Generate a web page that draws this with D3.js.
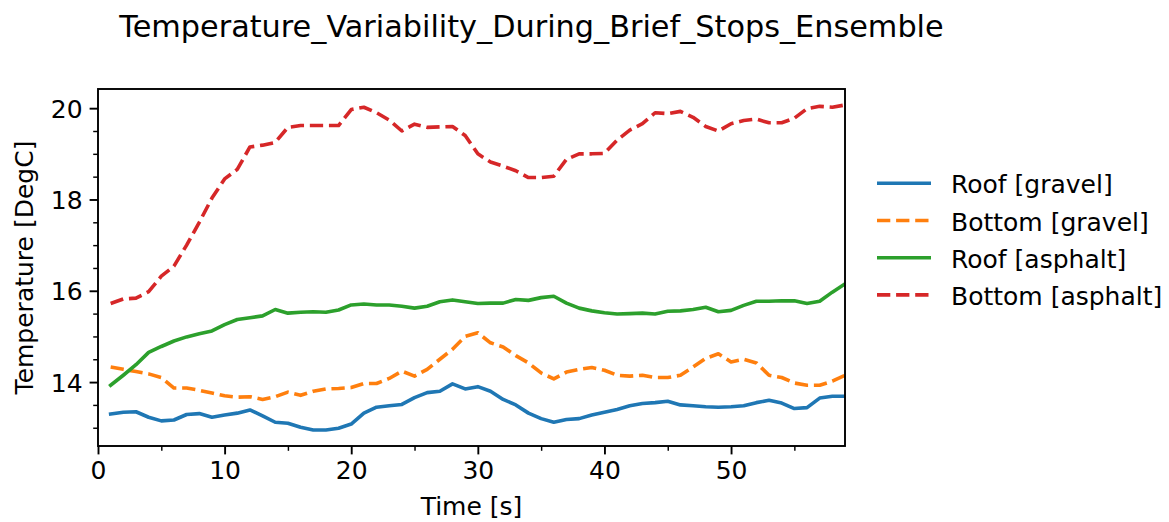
<!DOCTYPE html>
<html>
<head>
<meta charset="utf-8">
<script src="https://cdn.jsdelivr.net/npm/d3@7"></script>
<style>
  html, body { margin: 0; padding: 0; background: #fff; }
  svg { display: block; font-family: "DejaVu Sans", sans-serif; }
</style>
</head>
<body>
<svg id="chart" width="1169" height="522"></svg>
<script>
// Time axis, one sample per second
const time = d3.range(1, 60);

const roofGravel = [
  13.30, 13.34, 13.35, 13.23, 13.15, 13.17, 13.29, 13.31, 13.23, 13.28,
  13.32, 13.39, 13.26, 13.12, 13.10, 13.01, 12.95, 12.95, 12.99, 13.08,
  13.32, 13.45, 13.48, 13.51, 13.66, 13.77, 13.80, 13.96, 13.85, 13.90,
  13.80, 13.62, 13.50, 13.32, 13.20, 13.12, 13.18, 13.20, 13.28, 13.34,
  13.40, 13.48, 13.53, 13.55, 13.58, 13.50, 13.48, 13.46, 13.45, 13.46,
  13.48, 13.55, 13.60, 13.54, 13.42, 13.44, 13.65, 13.69, 13.69
];

const bottomGravel = [
  14.33, 14.28, 14.23, 14.18, 14.10, 13.87, 13.87, 13.82, 13.76, 13.70,
  13.67, 13.68, 13.62, 13.68, 13.78, 13.71, 13.80, 13.85, 13.86, 13.88,
  13.97, 13.97, 14.08, 14.24, 14.13, 14.28, 14.50, 14.72, 15.00, 15.08,
  14.86, 14.77, 14.58, 14.42, 14.20, 14.07, 14.22, 14.28, 14.32, 14.26,
  14.15, 14.13, 14.15, 14.10, 14.10, 14.15, 14.33, 14.52, 14.62, 14.44,
  14.50, 14.42, 14.15, 14.10, 13.98, 13.93, 13.93, 14.02, 14.15
];

const roofAsphalt = [
  13.93, 14.15, 14.38, 14.65, 14.78, 14.90, 14.99, 15.06, 15.12, 15.26,
  15.37, 15.41, 15.45, 15.59, 15.51, 15.53, 15.54, 15.53, 15.58, 15.69,
  15.71, 15.69, 15.69, 15.66, 15.62, 15.66, 15.76, 15.80, 15.76, 15.72,
  15.73, 15.73, 15.81, 15.79, 15.85, 15.88, 15.73, 15.62, 15.56, 15.52,
  15.49, 15.50, 15.51, 15.49, 15.55, 15.56, 15.59, 15.64, 15.54, 15.57,
  15.68, 15.77, 15.77, 15.78, 15.78, 15.72, 15.77, 15.97, 16.15
];

const bottomAsphalt = [
  15.72, 15.82, 15.84, 15.98, 16.32, 16.54, 17.00, 17.50, 18.03, 18.45,
  18.66, 19.15, 19.19, 19.25, 19.58, 19.62, 19.62, 19.62, 19.62, 19.97,
  20.02, 19.90, 19.74, 19.50, 19.65, 19.58, 19.59, 19.60, 19.40, 19.00,
  18.82, 18.73, 18.63, 18.48, 18.48, 18.51, 18.88, 19.00, 19.00, 19.01,
  19.30, 19.52, 19.66, 19.90, 19.88, 19.93, 19.80, 19.60, 19.50, 19.66,
  19.73, 19.76, 19.68, 19.68, 19.78, 19.99, 20.04, 20.02, 20.07
];

const seriesNames = ["Roof [gravel]", "Bottom [gravel]", "Roof [asphalt]", "Bottom [asphalt]"];
const seriesValues = [roofGravel, bottomGravel, roofAsphalt, bottomAsphalt];
const seriesColors = ["#1f77b4", "#ff7f0e", "#2ca02c", "#d62728"];
const seriesDashed = [false, true, false, true];

const xTicks = [0, 10, 20, 30, 40, 50];
const yTicks = [14, 16, 18, 20];

const titleText = "Temperature_Variability_During_Brief_Stops_Ensemble";
const xLabel = "Time [s]";
const yLabel = "Temperature [DegC]";

// Plot frame in pixels
const plot = { left: 98, right: 845, top: 89, bottom: 446 };
const fontSize = 25;
const lineW = 3.6;
const dash = "13.3,5.8";

const svg = d3.select("#chart");

const x = d3.scaleLinear().domain([0, 59]).range([plot.left, plot.right]);
const y = d3.scaleLinear().domain([12.6, 20.42]).range([plot.bottom, plot.top]);

// Clip region for the data lines
svg.append("defs").append("clipPath").attr("id", "plot-clip")
  .append("rect")
  .attr("x", plot.left).attr("y", plot.top)
  .attr("width", plot.right - plot.left).attr("height", plot.bottom - plot.top);

// Title
svg.append("text")
  .attr("x", 531.5).attr("y", 37)
  .attr("text-anchor", "middle")
  .attr("font-size", 30.3)
  .attr("fill", "#000")
  .text(titleText);

// Data lines
const line = d3.line()
  .x((d, i) => x(time[i]))
  .y(d => y(d));

const lines = svg.append("g").attr("clip-path", "url(#plot-clip)");
seriesValues.forEach((vals, k) => {
  lines.append("path")
    .datum(vals)
    .attr("d", line)
    .attr("fill", "none")
    .attr("stroke", seriesColors[k])
    .attr("stroke-width", lineW)
    .attr("stroke-linejoin", "round")
    .attr("stroke-linecap", seriesDashed[k] ? "butt" : "square")
    .attr("stroke-dasharray", seriesDashed[k] ? dash : null);
});

// Axes
const xAxis = d3.axisBottom(x).tickValues(xTicks).tickFormat(d3.format("d"))
  .tickSize(8.4).tickPadding(6);
const xMinor = d3.axisBottom(x).tickValues(d3.range(5, 60, 10)).tickFormat("")
  .tickSize(4.8);
const yAxis = d3.axisLeft(y).tickValues(yTicks).tickFormat(d3.format("d"))
  .tickSize(8.4).tickPadding(7);
const yMinor = d3.axisLeft(y).tickValues(d3.range(13, 20.5, 0.5).filter(v => v % 2 !== 0)).tickFormat("")
  .tickSize(4.8);

function styleAxis(g, major) {
  g.select(".domain").remove();
  g.selectAll(".tick line").attr("stroke", "#000").attr("stroke-width", major ? 1.9 : 1.45);
  g.selectAll(".tick text").attr("fill", "#000").attr("font-size", fontSize)
    .attr("font-family", "DejaVu Sans, sans-serif");
}

svg.append("g").attr("transform", `translate(0,${plot.bottom})`).call(xAxis).call(g => styleAxis(g, true))
  .selectAll(".tick text").attr("dy", "0.74em");
svg.append("g").attr("transform", `translate(0,${plot.bottom})`).call(xMinor).call(g => styleAxis(g, false));
svg.append("g").attr("transform", `translate(${plot.left},0)`).call(yAxis).call(g => styleAxis(g, true))
  .selectAll(".tick text").attr("dy", "0.36em");
svg.append("g").attr("transform", `translate(${plot.left},0)`).call(yMinor).call(g => styleAxis(g, false));

// Frame
svg.append("rect")
  .attr("x", plot.left).attr("y", plot.top)
  .attr("width", plot.right - plot.left).attr("height", plot.bottom - plot.top)
  .attr("fill", "none").attr("stroke", "#000").attr("stroke-width", 1.9);

// Axis labels
svg.append("text")
  .attr("x", (plot.left + plot.right) / 2).attr("y", 515)
  .attr("text-anchor", "middle").attr("font-size", fontSize).attr("fill", "#000")
  .text(xLabel);

svg.append("text")
  .attr("transform", `translate(33,${(plot.top + plot.bottom) / 2}) rotate(-90)`)
  .attr("text-anchor", "middle").attr("font-size", fontSize).attr("fill", "#000")
  .text(yLabel);

// Legend
const legend = svg.append("g");
seriesNames.forEach((name, k) => {
  const ly = 183.3 + k * 37.2;
  legend.append("line")
    .attr("x1", 877).attr("x2", 931)
    .attr("y1", ly).attr("y2", ly)
    .attr("stroke", seriesColors[k])
    .attr("stroke-width", lineW)
    .attr("stroke-dasharray", seriesDashed[k] ? dash : null);
  legend.append("text")
    .attr("x", 951).attr("y", ly + 10)
    .attr("font-size", fontSize).attr("fill", "#000")
    .text(name);
});
</script>
</body>
</html>
